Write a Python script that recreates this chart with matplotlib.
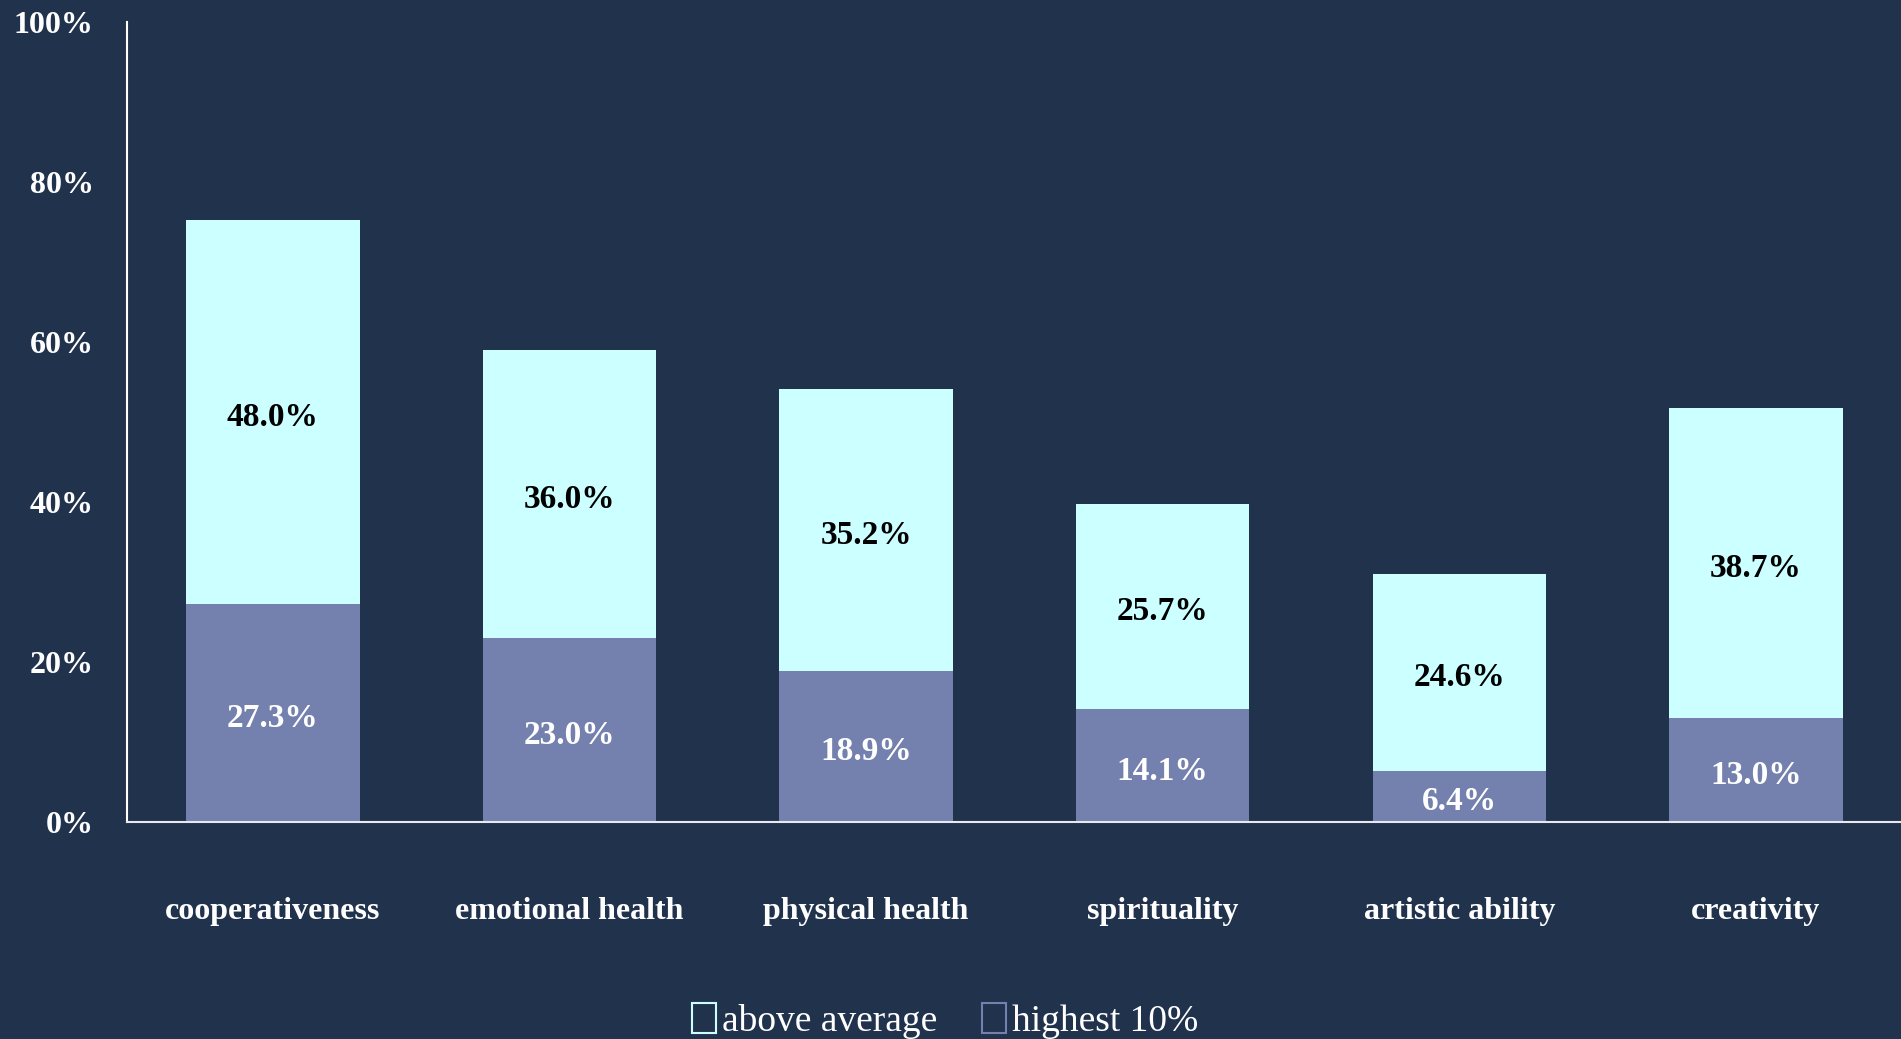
#! /usr/bin/env python3

import matplotlib
matplotlib.use("Agg")
import matplotlib.pyplot as plt
from matplotlib.patches import Patch
import numpy as np

categories = ['cooperativeness', 'emotional health', 'physical health',
              'spirituality', 'artistic ability', 'creativity']
highest_10 = [27.3, 23.0, 18.9, 14.1, 6.4, 13.0]
above_avg = [48.0, 36.0, 35.2, 25.7, 24.6, 38.7]
y_ticks = [0, 20, 40, 60, 80, 100]

BG = "#21324D"
CYAN = "#CCFFFF"
PURPLE = "#7480AD"

plt.rcParams['font.family'] = ['Liberation Serif', 'DejaVu Serif']

fig = plt.figure(figsize=(19.01, 10.39), dpi=100, facecolor=BG)
ax = fig.add_axes([0.0668, 0.2089, 0.94, 0.77])
ax.set_facecolor(BG)

x = np.arange(len(categories))
w = 0.585
ax.bar(x, highest_10, width=w, color=PURPLE)
ax.bar(x, above_avg, width=w, bottom=highest_10, color=CYAN)

# labels in the middle of each segment, nudged down a little
for i in range(len(categories)):
    ax.annotate(f'{highest_10[i]:.1f}%', (x[i], highest_10[i] / 2), xytext=(0, -4),
                textcoords='offset points', ha='center', va='center',
                color='white', fontsize=24, fontweight='bold')
    ax.annotate(f'{above_avg[i]:.1f}%', (x[i], highest_10[i] + above_avg[i] / 2),
                xytext=(0, -4), textcoords='offset points', ha='center', va='center',
                color='black', fontsize=24, fontweight='bold')

ax.set_xlim(-0.492, 5.533)
ax.set_ylim(0, 100)
ax.set_yticks(y_ticks)
ax.set_yticklabels([f'{t}%' for t in y_ticks], fontsize=23, fontweight='bold', color='white')
ax.set_xticks(x)
ax.set_xticklabels(categories, fontsize=23, fontweight='bold', color='white')
ax.tick_params(axis='y', length=0, pad=24)
ax.tick_params(axis='x', length=0, pad=54)

for side in ['top', 'right']:
    ax.spines[side].set_visible(False)
ax.spines['left'].set_color('white')
ax.spines['bottom'].set_color('#E8E8F0')
ax.spines['left'].set_linewidth(1.5)
ax.spines['bottom'].set_linewidth(1.5)

handles = [Patch(facecolor='none', edgecolor=CYAN, linewidth=1.5),
           Patch(facecolor='none', edgecolor=PURPLE, linewidth=1.5)]
leg = fig.legend(handles, ['above average', 'highest 10%'], loc='center',
                 bbox_to_anchor=(0.497, 0.017), ncol=2, frameon=False, fontsize=27,
                 handlelength=0.65, handleheight=0.85, handletextpad=0.15, columnspacing=1.2)
for t in leg.get_texts():
    t.set_color('white')

fig.savefig('out.png', dpi=100, facecolor=BG)
